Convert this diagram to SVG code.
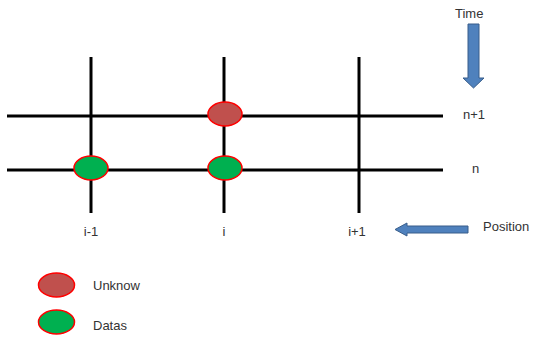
<svg xmlns="http://www.w3.org/2000/svg" width="536" height="337" viewBox="0 0 536 337">
<style>
.grid{stroke:#000;stroke-width:3;fill:none}
.unk{fill:#C0504D;stroke:#FF0000;stroke-width:1.5}
.dat{fill:#00B050;stroke:#FF0000;stroke-width:1.5}
.arr{fill:#4F81BD;stroke:#385D8A;stroke-width:1}
text{font-family:"Liberation Sans",Arial,sans-serif;font-size:13px;fill:#333}
</style>
<rect width="536" height="337" fill="#fff"/>
<g id="connectors">
<line class="grid" x1="7" y1="116" x2="443" y2="116"/>
<line class="grid" x1="7" y1="170" x2="443" y2="170"/>
<line class="grid" x1="91" y1="57" x2="91" y2="213"/>
<line class="grid" x1="224" y1="57" x2="224" y2="213"/>
<line class="grid" x1="359" y1="57" x2="359" y2="213"/>
</g>
<g id="node-unknown-i-n1"><ellipse class="unk" cx="225" cy="114" rx="17" ry="12"/></g>
<g id="node-data-im1-n"><ellipse class="dat" cx="91" cy="168" rx="17" ry="12"/></g>
<g id="node-data-i-n"><ellipse class="dat" cx="225" cy="168" rx="17" ry="12"/></g>
<g id="labels">
<text x="91" y="236" text-anchor="middle">i-1</text>
<text x="224" y="236" text-anchor="middle">i</text>
<text x="357" y="236" text-anchor="middle">i+1</text>
<text x="463" y="119">n+1</text>
<text x="472" y="173">n</text>
</g>
<g id="time-axis">
<text x="455" y="18">Time</text>
<path class="arr" d="M468,24 H479 V78 H484 L473.5,88 L463,78 H468 Z"/>
</g>
<g id="position-axis">
<text x="483" y="231">Position</text>
<path class="arr" d="M468,226 V233 H407 V236 L395,229.5 L407,223 V226 Z"/>
</g>
<g id="legend-unknown">
<ellipse class="unk" cx="56.5" cy="285" rx="18" ry="12"/>
<text x="93" y="290">Unknow</text>
</g>
<g id="legend-data">
<ellipse class="dat" cx="56.5" cy="322" rx="18" ry="12"/>
<text x="93" y="330">Datas</text>
</g>
</svg>
